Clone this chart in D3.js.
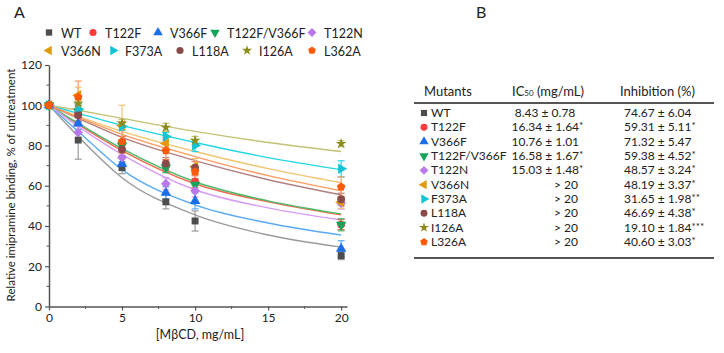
<!DOCTYPE html>
<html>
<head>
<meta charset="utf-8">
<script src="https://cdn.jsdelivr.net/npm/d3@7"></script>
<style>
  body { margin: 0; background: #fff; }
  svg { font-family: Lato, "Open Sans", sans-serif; }
</style>
</head>
<body>
<svg id="chart" width="724" height="353"></svg>
<script>
// doses of MbCD (mg/mL)
const doses = [0, 2, 5, 8, 10, 20];
const mutants = ["WT", "T122F", "V366F", "T122F/V366F", "T122N", "V366N", "F373A", "L118A", "I126A", "L362A"];
const tableNames = ["WT", "T122F", "V366F", "T122F/V366F", "T122N", "V366N", "F373A", "L118A", "I126A", "L326A"];
const markerColors = ["#4d4d4d", "#ff3b3b", "#1a6fe8", "#16a35a", "#b978ec", "#e09a10", "#13c4d6", "#8a4a4a", "#8c8c1a", "#ff5a0a"];
const curveColors = ["#9a9a9a", "#f26a4f", "#5aaaf5", "#4cb86a", "#d89cf5", "#f2c46e", "#22d6e6", "#b08080", "#c2c274", "#ff9a60"];
const shapes = ["square", "circle", "up", "down", "diamond", "left", "right", "circle", "star", "pentagon"];

// measured means, % of untreatment
const meanValues = [
  [100, 82.7, 69, 52, 42.5, 25.3],
  [100, 96, 81.5, 70, 62, 40.7],
  [100, 91, 71, 56.5, 52.5, 28.7],
  [100, 97, 80, 69, 60.5, 40.6],
  [100, 86.5, 74, 61, 57.5, 51.4],
  [100, 105, 90, 81, 69.5, 51.8],
  [100, 98, 89.5, 84.5, 80, 68.4],
  [100, 95, 78, 71, 69, 53.3],
  [100, 101, 91, 89, 82.5, 80.9],
  [100, 104, 82, 77.5, 67, 59.4]
];
const errValues = [
  [0, 9.5, 3, 3.5, 5, 2],
  [0, 4, 3, 3, 3, 2.5],
  [0, 3, 3, 3, 4, 4],
  [0, 3, 2.5, 2.5, 3, 3],
  [0, 3, 3, 3, 3, 3],
  [0, 4, 10, 3, 4, 3],
  [0, 3, 2, 2, 3, 4],
  [0, 3, 3, 3, 3, 3],
  [0, 2, 2, 2, 2, 1.5],
  [0, 8, 6, 5, 5, 5]
];

// fitted curves
const fitDoses = [0, 2, 5, 10, 15, 20];
const fitValues = [
  [100, 84.5, 64, 45.5, 35.5, 29.5],
  [100, 90.5, 77.5, 61, 52, 45.5],
  [100, 87, 68, 50.5, 41.5, 35.5],
  [100, 91, 78.5, 62, 52.5, 46],
  [100, 89.5, 75.5, 58, 49, 43],
  [100, 94.5, 87, 77, 68.5, 61.5],
  [100, 96, 90, 81.5, 74, 68],
  [100, 93.5, 84, 72.5, 63, 55.5],
  [100, 97.5, 93.5, 87, 81.5, 77],
  [100, 94, 85.5, 74.5, 65, 57.5]
];

// table B
const ic50Text = ["8.43 \u00b1 0.78", "16.34 \u00b1 1.64", "10.76 \u00b1 1.01", "16.58 \u00b1 1.67", "15.03 \u00b1 1.48", "> 20", "> 20", "> 20", "> 20", "> 20"];
const ic50Stars = ["", "*", "", "*", "*", "", "", "", "", ""];
const inhibText = ["74.67 \u00b1 6.04", "59.31 \u00b1 5.11", "71.32 \u00b1 5.47", "59.38 \u00b1 4.52", "48.57 \u00b1 3.24", "48.19 \u00b1 3.37", "31.65 \u00b1 1.98", "46.69 \u00b1 4.38", "19.10 \u00b1 1.84", "40.60 \u00b1 3.03"];
const inhibStars = ["", "*", "", "*", "*", "*", "**", "*", "***", "*"];

const xTicks = [0, 5, 10, 15, 20];
const yTicks = [0, 20, 40, 60, 80, 100, 120];

const svg = d3.select("#chart");

const x = d3.scaleLinear().domain([0, 20.4]).range([49, 347]);
const y = d3.scaleLinear().domain([0, 120]).range([306.5, 65]);

// pentagon symbol
const symbolPentagon = {
  draw(ctx, size) {
    const r = Math.sqrt(size / 2.38);
    for (let i = 0; i < 5; i++) {
      const a = -Math.PI / 2 + i * 2 * Math.PI / 5;
      if (i === 0) ctx.moveTo(r * Math.cos(a), r * Math.sin(a));
      else ctx.lineTo(r * Math.cos(a), r * Math.sin(a));
    }
    ctx.closePath();
  }
};

function markerPath(shape, size) {
  let type = d3.symbolCircle, rot = 0;
  if (shape === "square") type = d3.symbolSquare;
  if (shape === "diamond") { type = d3.symbolSquare; rot = 45; }
  if (shape === "up") type = d3.symbolTriangle;
  if (shape === "down") { type = d3.symbolTriangle; rot = 180; }
  if (shape === "left") { type = d3.symbolTriangle; rot = -90; }
  if (shape === "right") { type = d3.symbolTriangle; rot = 90; }
  if (shape === "star") type = d3.symbolStar;
  if (shape === "pentagon") type = symbolPentagon;
  return { d: d3.symbol().type(type).size(size)(), rot: rot };
}

function addMarker(g, shape, color, cx, cy, size) {
  const m = markerPath(shape, size);
  g.append("path")
    .attr("d", m.d)
    .attr("transform", "translate(" + cx + "," + cy + ") rotate(" + m.rot + ")")
    .attr("fill", color);
}

// axes
const axisColor = "#555";
const xAxis = svg.append("g")
  .attr("transform", "translate(0," + y(0) + ")")
  .call(d3.axisBottom(x).tickValues(xTicks).tickSize(4).tickSizeOuter(0));
const yAxis = svg.append("g")
  .attr("transform", "translate(" + x(0) + ",0)")
  .call(d3.axisLeft(y).tickValues(yTicks).tickSize(4).tickSizeOuter(0));

// minor ticks
svg.append("g").selectAll("line")
  .data([2.5, 7.5, 12.5, 17.5]).enter().append("line")
  .attr("x1", d => x(d)).attr("x2", d => x(d))
  .attr("y1", y(0)).attr("y2", y(0) + 2.5)
  .attr("stroke", axisColor).attr("stroke-width", 1);
svg.append("g").selectAll("line")
  .data([10, 30, 50, 70, 90, 110]).enter().append("line")
  .attr("y1", d => y(d)).attr("y2", d => y(d))
  .attr("x1", x(0)).attr("x2", x(0) - 2.5)
  .attr("stroke", axisColor).attr("stroke-width", 1);

[xAxis, yAxis].forEach(a => {
  a.select(".domain").attr("stroke", axisColor).attr("stroke-width", 1.5);
  a.selectAll(".tick line").attr("stroke", axisColor).attr("stroke-width", 1.2);
  a.selectAll("text").attr("fill", "#222").style("font-size", "12px").style("font-family", "Lato, sans-serif");
});

svg.append("text")
  .attr("x", 200).attr("y", 339)
  .attr("text-anchor", "middle")
  .style("font-size", "12.5px").attr("fill", "#222")
  .text("[M\u03b2CD, mg/mL]");

svg.append("text")
  .attr("transform", "translate(15,185) rotate(-90)")
  .attr("text-anchor", "middle")
  .style("font-size", "11.5px").attr("fill", "#222")
  .text("Relative imipramine binding, % of untreatment");

// fitted curves
const line = d3.line()
  .x((d, i) => x(fitDoses[i]))
  .y(d => y(d))
  .curve(d3.curveMonotoneX);

svg.append("g").selectAll("path")
  .data(fitValues).enter().append("path")
  .attr("d", d => line(d))
  .attr("fill", "none")
  .attr("stroke", (d, i) => curveColors[i])
  .attr("stroke-width", 1.4);

// error bars
const errG = svg.append("g");
meanValues.forEach((ser, s) => {
  ser.forEach((v, i) => {
    const e = errValues[s][i];
    if (e <= 0) return;
    const cx = x(doses[i]);
    errG.append("line")
      .attr("x1", cx).attr("x2", cx)
      .attr("y1", y(v - e)).attr("y2", y(v + e))
      .attr("stroke", curveColors[s]).attr("stroke-width", 1.2);
    [v - e, v + e].forEach(t => {
      errG.append("line")
        .attr("x1", cx - 3.5).attr("x2", cx + 3.5)
        .attr("y1", y(t)).attr("y2", y(t))
        .attr("stroke", curveColors[s]).attr("stroke-width", 1.2);
    });
  });
});

// data markers
const markG = svg.append("g");
meanValues.forEach((ser, s) => {
  ser.forEach((v, i) => {
    addMarker(markG, shapes[s], markerColors[s], x(doses[i]), y(v), shapes[s] === "star" ? 36 : 48);
  });
});

// legend
const legendX = [49, 93, 158, 215, 312, 49, 113, 180, 247, 312];
const legendY = [33, 33, 33, 33, 33, 51, 51, 51, 51, 51];
const legG = svg.append("g");
mutants.forEach((m, i) => {
  addMarker(legG, shapes[i], markerColors[i], legendX[i], legendY[i] - 0.5, shapes[i] === "star" ? 32 : 40);
  legG.append("text")
    .attr("x", legendX[i] + 12).attr("y", legendY[i] + 4.5)
    .style("font-size", "12.5px").attr("fill", "#222")
    .text(m);
});

// panel letters
svg.append("text").attr("x", 14).attr("y", 18).style("font-size", "16px").attr("fill", "#222").text("A");
svg.append("text").attr("x", 476).attr("y", 18).style("font-size", "16px").attr("fill", "#222").text("B");

// table
const tb = svg.append("g").style("font-size", "12px").attr("fill", "#222");
const rowY = d3.scaleLinear().domain([0, 9]).range([117, 246]);
tb.append("text").attr("x", 424).attr("y", 96).style("font-size", "13px").text("Mutants");
const icHead = tb.append("text").attr("x", 512).attr("y", 96).style("font-size", "13px");
icHead.append("tspan").text("IC");
icHead.append("tspan").style("font-size", "8px").text("50");
icHead.append("tspan").text(" (mg/mL)");
tb.append("text").attr("x", 620).attr("y", 96).style("font-size", "13px").text("Inhibition (%)");
[103, 258].forEach(ly => {
  tb.append("line").attr("x1", 414).attr("x2", 714).attr("y1", ly).attr("y2", ly)
    .attr("stroke", "#555").attr("stroke-width", 1.8);
});
tableNames.forEach((n, i) => {
  const yy = rowY(i);
  addMarker(tb, shapes[i], markerColors[i], 424, yy - 4, shapes[i] === "star" ? 30 : 38);
  tb.append("text").attr("x", 431).attr("y", yy).text(n);
  const ic = tb.append("text").attr("x", ic50Text[i] === "> 20" ? 554 : 550 - ic50Text[i].length * 3.2).attr("y", yy);
  ic.append("tspan").text(ic50Text[i]);
  ic.append("tspan").style("font-size", "10px").attr("dy", -2).text(ic50Stars[i]);
  const ih = tb.append("text").attr("x", 624).attr("y", yy);
  ih.append("tspan").text(inhibText[i]);
  ih.append("tspan").style("font-size", "10px").attr("dy", -2).text(inhibStars[i]);
});
</script>
</body>
</html>
